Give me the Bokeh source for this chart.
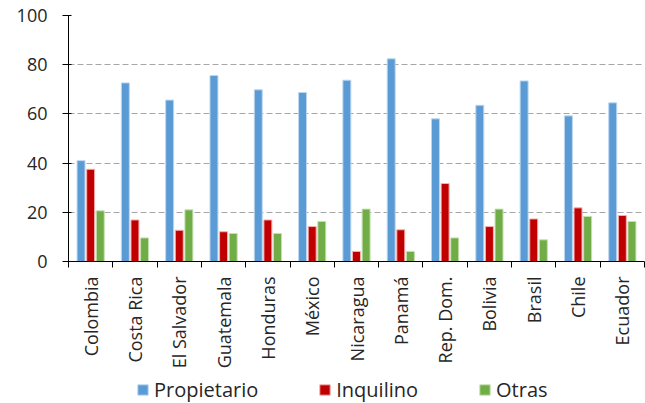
import numpy as np
from bokeh.plotting import figure
from bokeh.layouts import column
from bokeh.models import (ColumnDataSource, FixedTicker, Legend, LegendItem,
                          Range1d)
from bokeh.embed import file_html
from bokeh.resources import INLINE

countries = ["Colombia", "Costa Rica", "El Salvador", "Guatemala", "Honduras",
             "México", "Nicaragua", "Panamá", "Rep. Dom.", "Bolivia", "Brasil",
             "Chile", "Ecuador"]
propietario = [41.0, 72.6, 65.6, 75.6, 69.8, 68.7, 73.7, 82.4, 58.0, 63.5, 73.4, 59.2, 64.5]
inquilino = [37.5, 16.9, 12.7, 12.1, 16.9, 14.2, 4.1, 12.9, 31.7, 14.2, 17.3, 21.8, 18.7]
otras = [20.6, 9.6, 21.0, 11.4, 11.4, 16.3, 21.3, 4.1, 9.6, 21.3, 8.8, 18.3, 16.3]
series_names = ["Propietario", "Inquilino", "Otras"]
y_ticks = [0, 20, 40, 60, 80, 100]

colors = ["#5B9BD5", "#C00000", "#70AD47"]
edges = ["#BDD7EE", "#F4B0B0", "#C5E0B4"]
FONT = "Open Sans"
TXT = "#262626"

idx = np.arange(len(countries))
p = figure(frame_width=576, frame_height=246, output_backend="svg", toolbar_location=None,
           x_range=Range1d(-0.5, len(countries) - 0.5), y_range=Range1d(0, 100),
           min_border_left=68, min_border_right=1, min_border_top=15,
           min_border_bottom=116)
p.outline_line_color = None

offsets = [-0.217, 0.0, 0.217]
sources = []
for vals, off, c, e in zip([propietario, inquilino, otras], offsets, colors, edges):
    src = ColumnDataSource(dict(x=idx + off, top=vals))
    sources.append(src)
    p.vbar(x="x", top="top", bottom=0, width=0.18, source=src,
           fill_color=c, line_color=e, line_width=1)

# axes
p.xaxis.ticker = FixedTicker(ticks=list(idx), minor_ticks=list(np.arange(-0.5, len(countries), 1.0)))
p.xaxis.major_label_overrides = {int(i): n for i, n in zip(idx, countries)}
p.xaxis.major_label_orientation = np.pi / 2
p.xaxis.major_tick_out = 0
p.xaxis.major_tick_in = 0
p.xaxis.minor_tick_out = 6
p.xaxis.minor_tick_in = 0
p.xaxis.minor_tick_line_color = "black"
p.xaxis.axis_line_color = "black"
p.xaxis.major_label_standoff = 9
p.xaxis.major_label_text_font = FONT
p.xaxis.major_label_text_font_size = "18px"
p.xaxis.major_label_text_color = TXT

p.yaxis.ticker = FixedTicker(ticks=y_ticks)
p.yaxis.major_tick_out = 6
p.yaxis.major_tick_in = 3
p.yaxis.minor_tick_line_color = None
p.yaxis.axis_line_color = "black"
p.yaxis.major_label_standoff = 15
p.yaxis.major_label_text_font = FONT
p.yaxis.major_label_text_font_size = "18px"
p.yaxis.major_label_text_color = TXT

p.xgrid.grid_line_color = None
p.ygrid.grid_line_color = "#A6A6A6"
p.ygrid.grid_line_dash = "6 3"
p.ygrid.grid_line_width = 1

# legend strip below the chart (bars drawn off-range so only legend swatches show)
lg = figure(width=645, height=26, output_backend="svg", toolbar_location=None,
            x_axis_type=None, y_axis_type=None, x_range=Range1d(-0.5, len(countries) - 0.5),
            y_range=Range1d(1000, 1001), min_border=0)
lg.outline_line_color = None
lg.grid.visible = False
lr = [lg.vbar(x="x", top="top", bottom=0, width=0.18, source=s, fill_color=c, line_color=e)
      for s, c, e in zip(sources, colors, edges)]
legend = Legend(items=[LegendItem(label=n, renderers=[r]) for n, r in zip(series_names, lr)],
                orientation="horizontal", location=(68, 0),
                label_text_font=FONT, label_text_font_size="20px", label_text_color=TXT,
                glyph_width=13, glyph_height=13, label_standoff=5, spacing=60,
                padding=0, margin=0, border_line_color=None, background_fill_alpha=0)
lg.add_layout(legend, "center")

layout = column(p, lg, spacing=0)
open("out.html", "w").write(file_html(layout, INLINE))
